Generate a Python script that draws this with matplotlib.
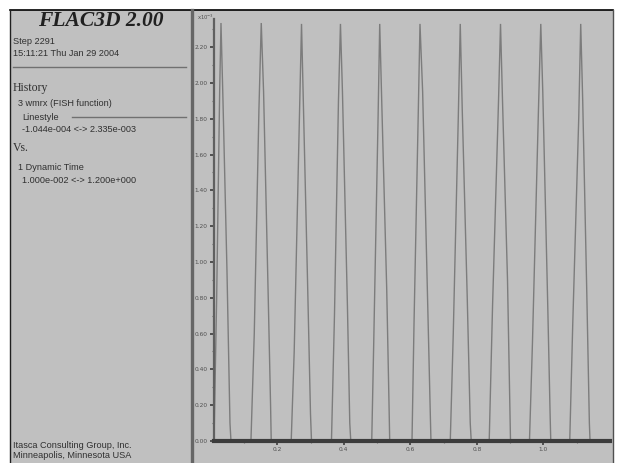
import matplotlib
matplotlib.use("Agg")
import matplotlib.pyplot as plt
from matplotlib.lines import Line2D
from matplotlib.patches import Rectangle

# ---------------- data ----------------
# Dynamic time (s)
time = [0.010, 0.018, 0.027, 0.031, 0.037, 0.049, 0.058, 0.061,
        0.121, 0.131, 0.145, 0.152, 0.159, 0.173, 0.180, 0.182,
        0.242, 0.251, 0.266, 0.273, 0.279, 0.291, 0.300, 0.303,
        0.363, 0.372, 0.384, 0.390, 0.396, 0.411, 0.418, 0.421,
        0.484, 0.490, 0.503, 0.508, 0.514, 0.529, 0.536, 0.538,
        0.605, 0.611, 0.624, 0.629, 0.637, 0.653, 0.660, 0.662,
        0.720, 0.729, 0.744, 0.750, 0.756, 0.771, 0.780, 0.783,
        0.837, 0.847, 0.865, 0.871, 0.877, 0.892, 0.899, 0.901,
        0.958, 0.967, 0.985, 0.992, 0.998, 1.013, 1.020, 1.022,
        1.079, 1.088, 1.106, 1.112, 1.118, 1.130, 1.138, 1.140,
        1.200]
# wmrx (FISH function) value
wmrx = [0.0e-3, 0.80e-3, 1.95e-3, 2.335e-3, 1.90e-3, 0.95e-3, 0.10e-3, 0.0e-3,
        0.0e-3, 0.60e-3, 1.85e-3, 2.335e-3, 1.95e-3, 0.80e-3, 0.20e-3, 0.0e-3,
        0.0e-3, 0.50e-3, 1.75e-3, 2.33e-3, 1.85e-3, 0.90e-3, 0.15e-3, 0.0e-3,
        0.0e-3, 0.70e-3, 1.90e-3, 2.33e-3, 1.95e-3, 0.75e-3, 0.10e-3, 0.0e-3,
        0.0e-3, 0.55e-3, 1.80e-3, 2.33e-3, 1.90e-3, 0.85e-3, 0.20e-3, 0.0e-3,
        0.0e-3, 0.65e-3, 1.85e-3, 2.33e-3, 1.95e-3, 0.70e-3, 0.15e-3, 0.0e-3,
        0.0e-3, 0.60e-3, 1.80e-3, 2.33e-3, 1.85e-3, 0.80e-3, 0.10e-3, 0.0e-3,
        0.0e-3, 0.75e-3, 1.90e-3, 2.33e-3, 1.90e-3, 0.90e-3, 0.20e-3, 0.0e-3,
        0.0e-3, 0.55e-3, 1.85e-3, 2.33e-3, 1.95e-3, 0.75e-3, 0.15e-3, 0.0e-3,
        0.0e-3, 0.65e-3, 1.80e-3, 2.33e-3, 1.90e-3, 0.85e-3, 0.10e-3, 0.0e-3,
        0.0e-3]

y_ticks = [0.0e-3, 0.2e-3, 0.4e-3, 0.6e-3, 0.8e-3, 1.0e-3, 1.2e-3,
           1.4e-3, 1.6e-3, 1.8e-3, 2.0e-3, 2.2e-3]
y_tick_labels = ["0.00", "0.20", "0.40", "0.60", "0.80", "1.00", "1.20",
                 "1.40", "1.60", "1.80", "2.00", "2.20"]
x_ticks = [0.2, 0.4, 0.6, 0.8, 1.0]
x_tick_labels = ["0.2", "0.4", "0.6", "0.8", "1.0"]

# ---------------- figure ----------------
W, H = 618, 463
fig = plt.figure(figsize=(W / 100, H / 100), dpi=100, facecolor="white")

GRAY = "#c0c0c0"
DARK = "#3c3c3c"
LINE = "#7c7c7c"


def fx(px):
    return px / W


def fy(py):
    return 1 - py / H


# gray panel (behind everything)
fig.add_artist(Rectangle((fx(10), 0), fx(613) - fx(10), fy(10),
                         transform=fig.transFigure, facecolor=GRAY,
                         edgecolor="none", zorder=-10))
# borders
fig.add_artist(Line2D([fx(10), fx(613)], [fy(10), fy(10)], color="black", lw=1.2, zorder=-5))
fig.add_artist(Line2D([fx(10), fx(10)], [fy(10), 0], color="#202020", lw=1.0, zorder=-5))
fig.add_artist(Line2D([fx(613), fx(613)], [fy(10), 0], color="#505050", lw=1.0, zorder=-5))
# separator between info panel and plot
fig.add_artist(Line2D([fx(192), fx(192)], [fy(10), 0], color="#666666", lw=2.4, zorder=-5))

# ---- info panel text ----
TXT = "#303030"
fig.text(fx(101), fy(21), "FLAC3D 2.00", family="Liberation Serif",
         style="italic", weight="bold", fontsize=15.5, color="#202020",
         ha="center", va="center")
small = dict(family="Liberation Sans", fontsize=6.6, color=TXT, va="center", ha="left")
fig.text(fx(13), fy(41), "Step 2291", **small)
fig.text(fx(13), fy(54), "15:11:21 Thu Jan 29 2004", **small)
fig.add_artist(Line2D([fx(13), fx(186)], [fy(67), fy(67)], color="#707070", lw=1.0))
fig.text(fx(13), fy(88), "History", family="Liberation Serif", fontsize=8.5,
         color=TXT, va="center", ha="left")
fig.text(fx(18), fy(104), "3 wmrx (FISH function)", **small)
fig.text(fx(22), fy(117), "Linestyle", **small)
fig.add_artist(Line2D([fx(72), fx(186)], [fy(117), fy(117)], color="#707070", lw=1.0))
fig.text(fx(22), fy(130), "-1.044e-004 <-> 2.335e-003", **small)
fig.text(fx(13), fy(148), "Vs.", family="Liberation Serif", fontsize=8.5,
         color=TXT, va="center", ha="left")
fig.text(fx(18), fy(167), "1 Dynamic Time", **small)
fig.text(fx(22), fy(180), "1.000e-002 <-> 1.200e+000", **small)
fig.text(fx(13), fy(446), "Itasca Consulting Group, Inc.", **small)
fig.text(fx(13), fy(456), "Minneapolis, Minnesota USA", **small)

# ---- plot axes ----
ax_left, ax_right = 214, 610
ax_top, ax_bottom = 23, 441
ymax = 2.335e-3
ax = fig.add_axes([fx(ax_left), fy(ax_bottom), fx(ax_right) - fx(ax_left),
                   fy(ax_top) - fy(ax_bottom)], zorder=2)
ax.patch.set_visible(False)
ax.plot(time, wmrx, color=LINE, lw=1.0, clip_on=False, solid_joinstyle="miter")
ax.set_xlim(0.01, 1.2)
ax.set_ylim(0, ymax)

for s in ["top", "right"]:
    ax.spines[s].set_visible(False)
ax.spines["bottom"].set_color(DARK)
ax.spines["bottom"].set_linewidth(3.0)
ax.spines["bottom"].set_zorder(5)
ax.spines["left"].set_color("#606060")
ax.spines["left"].set_linewidth(1.6)
ax.spines["left"].set_bounds(0, ymax * 1.01)

ax.set_yticks(y_ticks)
ax.set_yticklabels(y_tick_labels)
ax.set_xticks(x_ticks)
ax.set_xticklabels(x_tick_labels)
ax.set_xticks([0.1, 0.3, 0.5, 0.7, 0.9, 1.1], minor=True)
ax.set_yticks([v + 0.1e-3 for v in y_ticks], minor=True)
ax.tick_params(axis="both", which="major", length=3, width=1.2, color=DARK,
               labelsize=4.2, labelcolor="#505050", pad=1.5, direction="out")
ax.tick_params(axis="both", which="minor", length=1.5, width=0.8, color="#707070",
               direction="out")
fig.text(fx(206), fy(17), "x10$^{-3}$", fontsize=3.8, color="#505050",
         ha="center", va="center")

fig.savefig("out.png", dpi=100, facecolor="white")
